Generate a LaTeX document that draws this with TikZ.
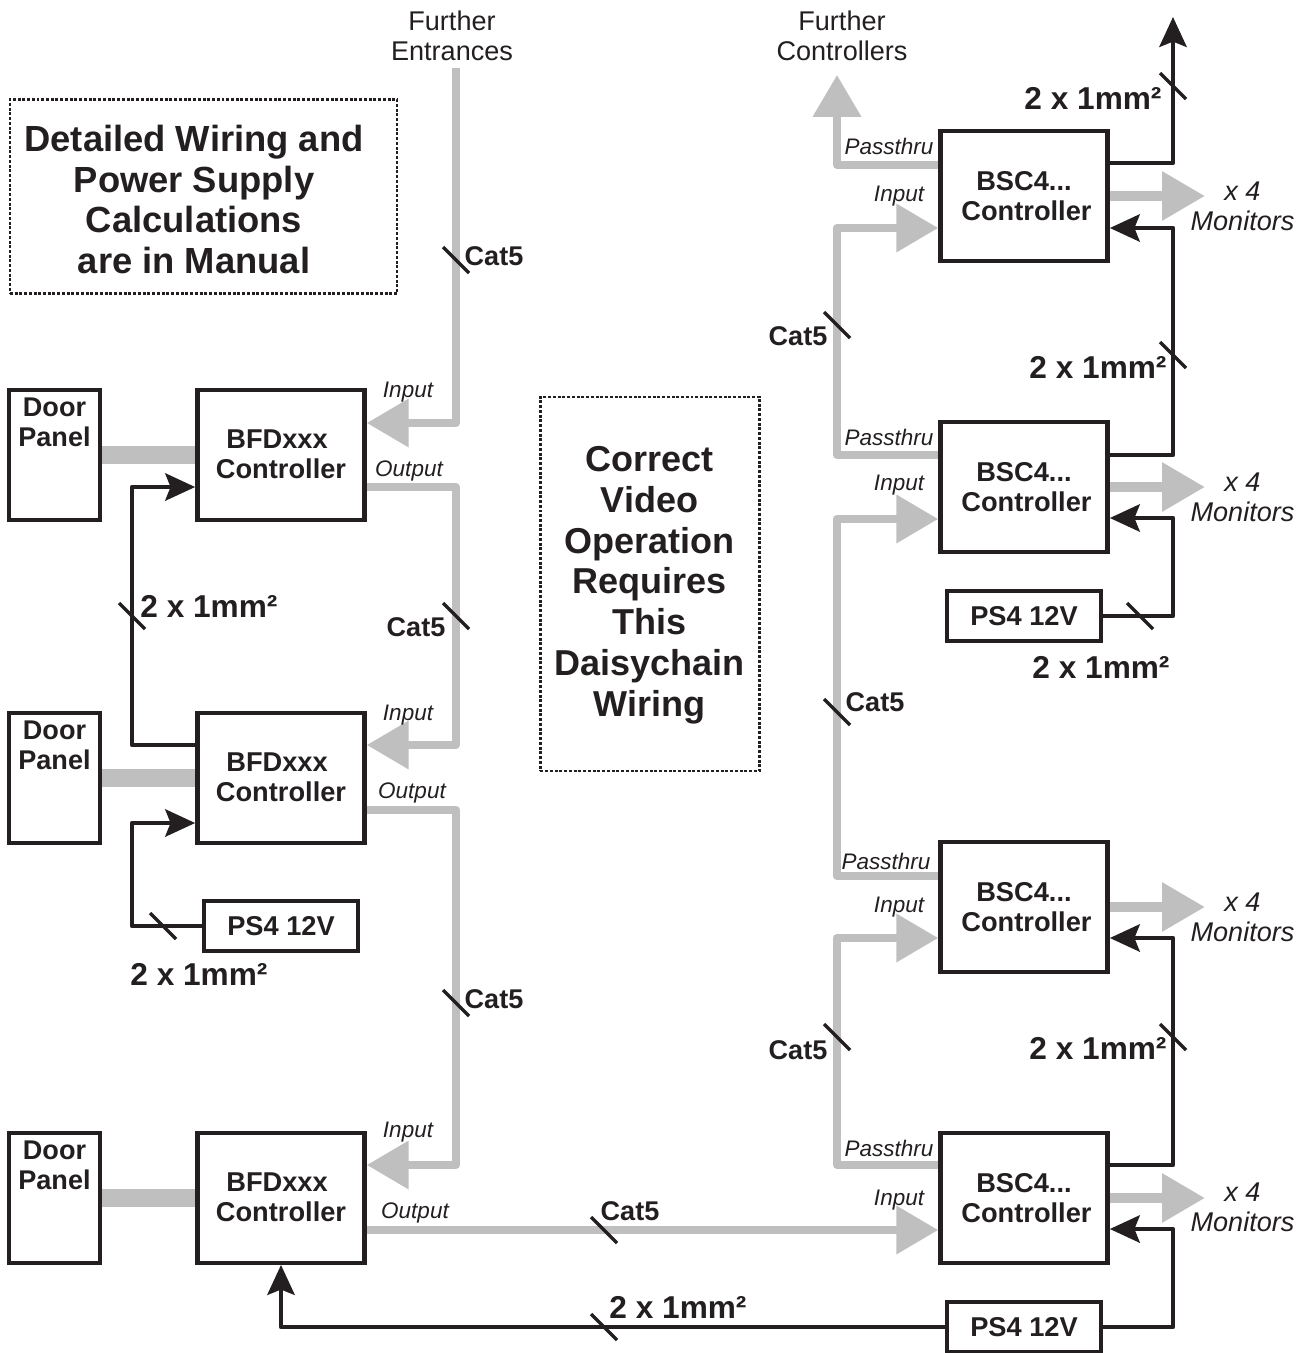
\documentclass[tikz,border=0pt]{standalone}
\usepackage{fontspec}
\setmainfont{Liberation Sans}
\usetikzlibrary{arrows.meta}
\definecolor{wireblack}{HTML}{231F20}
\definecolor{wiregray}{HTML}{BFBFBF}
\newcommand{\bfdtext}{BFDxxx\hspace*{4.5pt}\\Controller}
\newcommand{\bsctext}{BSC4...\\\hspace*{2.8pt}Controller}
\begin{document}
\begin{tikzpicture}[x=0.02cm,y=-0.02cm,color=wireblack]
\tikzstyle{unitbox}=[draw=wireblack,line width=2.5pt,fill=white,align=center,font=\fontsize{15.5}{17}\selectfont\bfseries,inner sep=0pt]
\tikzstyle{doorbox}=[unitbox,minimum width=51.6pt,minimum height=73.7pt]
\tikzstyle{ctrlbox}=[unitbox,minimum width=95.2pt,minimum height=73.7pt]
\tikzstyle{psubox}=[unitbox,minimum width=87.5pt,minimum height=28.3pt]
\tikzstyle{notebox}=[draw=wireblack,line width=1.3pt,dash pattern=on 1.7pt off 1pt,inner sep=0pt]
\tikzstyle{notetext}=[align=center,font=\fontsize{20.5}{23.2}\selectfont\bfseries,inner sep=0pt]
\tikzstyle{catwire}=[wiregray,line width=4.5pt,line join=round]
\tikzstyle{catarrow}=[catwire,-{Triangle[length=23.8pt,width=26.6pt]}]
\tikzstyle{monwire}=[wiregray,line width=5.6pt,-{Triangle[length=24.4pt,width=26.6pt]}]
\tikzstyle{doorwire}=[wiregray,line width=10.2pt]
\tikzstyle{powerwire}=[wireblack,line width=2.5pt,line join=round]
\tikzstyle{powerarrow}=[powerwire,-{Stealth[length=17pt,width=15.5pt,inset=3pt]}]
\tikzstyle{wiretick}=[wireblack,line width=2pt]
\tikzstyle{smalllabel}=[font=\fontsize{12.8}{14}\selectfont\itshape,inner sep=0pt]
\tikzstyle{catlabel}=[font=\fontsize{15.4}{17}\selectfont\bfseries,inner sep=0pt]
\tikzstyle{sizelabel}=[font=\fontsize{18}{20}\selectfont\bfseries,inner sep=0pt]
\tikzstyle{furtherlabel}=[font=\fontsize{15.4}{17}\selectfont,align=center,inner sep=0pt]
\tikzstyle{monlabel}=[font=\fontsize{15.4}{17}\selectfont\itshape,align=center,inner sep=0pt]
\useasboundingbox (0,0) rectangle (1307,1353);
\node[notebox,minimum width=220.5pt,minimum height=110.5pt] (noteA) at (203.5,196.5) {};
\node[notetext,font=\fontsize{20.7}{23.2}\selectfont\bfseries] (noteAtext) at (194,199.5) {Detailed Wiring and\\Power Supply\\Calculations\\are in Manual};
\node[notebox,minimum width=124.7pt,minimum height=213pt] (noteB) at (650,584) {};
\node[notetext] (noteBtext) at (649.5,585) {Correct\\Video\\Operation\\Requires\\This\\Daisychain\\Wiring};
\node[doorbox] (doorA) at (54.5,455) {};
\node[doorbox] (doorB) at (54.5,778) {};
\node[doorbox] (doorC) at (54.5,1198) {};
\node[catlabel,align=center] (doortextA) at (54.5,422) {Door\\Panel};
\node[catlabel,align=center] (doortextB) at (54.5,745) {Door\\Panel};
\node[catlabel,align=center] (doortextC) at (54.5,1165) {Door\\Panel};
\node[ctrlbox] (bfdA) at (281,455) {};
\node[ctrlbox] (bfdB) at (281,778) {};
\node[ctrlbox] (bfdC) at (281,1198) {};
\node[catlabel,align=center,font=\fontsize{15.5}{17}\selectfont\bfseries] (bfdtextA) at (281,454) {\bfdtext};
\node[catlabel,align=center,font=\fontsize{15.5}{17}\selectfont\bfseries] (bfdtextB) at (281,777) {\bfdtext};
\node[catlabel,align=center,font=\fontsize{15.5}{17}\selectfont\bfseries] (bfdtextC) at (281,1197) {\bfdtext};
\node[ctrlbox] (bscA) at (1024,196) {\bsctext};
\node[ctrlbox] (bscB) at (1024,487) {\bsctext};
\node[ctrlbox] (bscC) at (1024,907) {\bsctext};
\node[ctrlbox] (bscD) at (1024,1198) {\bsctext};
\node[psubox] (psuA) at (281,926) {PS4 12V};
\node[psubox] (psuB) at (1024,616) {PS4 12V};
\node[psubox] (psuC) at (1024,1327) {PS4 12V};
\node[furtherlabel] (furtherE) at (452,36) {Further\\Entrances};
\node[furtherlabel] (furtherC) at (842,36) {Further\\Controllers};
\coordinate (furtherEend) at (456,68);
\coordinate (furtherCtip) at (837,75);
\coordinate (furtherPtip) at (1173,17);
\coordinate (monA) at (1205,196);
\coordinate (monB) at (1205,487);
\coordinate (monC) at (1205,907);
\coordinate (monD) at (1205,1198);
\draw[doorwire] (doorA.east) -- (bfdA.west);
\draw[doorwire] (doorB.east) -- (bfdB.west);
\draw[doorwire] (doorC.east) -- (bfdC.west);
\draw[catarrow] (furtherEend) -- (456,423) -- (bfdA.east |- 0,423);
\draw[catarrow] (bfdA.east |- 0,487) -- (456,487) -- (456,745) -- (bfdB.east |- 0,745);
\draw[catarrow] (bfdB.east |- 0,810) -- (456,810) -- (456,1165) -- (bfdC.east |- 0,1165);
\draw[catarrow] (bfdC.east |- 0,1230) -- (bscD.west |- 0,1230);
\draw[catarrow] (bscA.west |- 0,165) -- (837,165) -- (furtherCtip);
\draw[catarrow] (bscB.west |- 0,455) -- (837,455) -- (837,228) -- (bscA.west |- 0,228);
\draw[catarrow] (bscC.west |- 0,876) -- (837,876) -- (837,519) -- (bscB.west |- 0,519);
\draw[catarrow] (bscD.west |- 0,1165) -- (837,1165) -- (837,938) -- (bscC.west |- 0,938);
\draw[monwire] (bscA.east) -- (monA);
\draw[monwire] (bscB.east) -- (monB);
\draw[monwire] (bscC.east) -- (monC);
\draw[monwire] (bscD.east) -- (monD);
\draw[powerarrow] (bfdB.west |- 0,745) -- (132,745) -- (132,487) -- (bfdA.west |- 0,487);
\draw[powerarrow] (psuA.west) -- (132,926) -- (132,823) -- (bfdB.west |- 0,823);
\draw[powerarrow] (psuC.west) -- (281,1327) -- (bfdC.south);
\draw[powerarrow] (bscA.east |- 0,163) -- (1173,163) -- (furtherPtip);
\draw[powerarrow] (bscB.east |- 0,455) -- (1173,455) -- (1173,228) -- (bscA.east |- 0,228);
\draw[powerarrow] (psuB.east) -- (1173,616) -- (1173,518) -- (bscB.east |- 0,518);
\draw[powerarrow] (bscD.east |- 0,1165) -- (1173,1165) -- (1173,938) -- (bscC.east |- 0,938);
\draw[powerarrow] (psuC.east) -- (1173,1327) -- (1173,1229) -- (bscD.east |- 0,1229);
\draw[wiretick] (456,260) +(-13,-13) -- +(13,13);
\draw[wiretick] (456,616) +(-13,-13) -- +(13,13);
\draw[wiretick] (456,1003) +(-13,-13) -- +(13,13);
\draw[wiretick] (132,616) +(-13,-13) -- +(13,13);
\draw[wiretick] (163,926) +(-13,-13) -- +(13,13);
\draw[wiretick] (1173,86) +(-13,-13) -- +(13,13);
\draw[wiretick] (837,325) +(-13,-13) -- +(13,13);
\draw[wiretick] (1173,355) +(-13,-13) -- +(13,13);
\draw[wiretick] (837,712) +(-13,-13) -- +(13,13);
\draw[wiretick] (1140,616) +(-13,-13) -- +(13,13);
\draw[wiretick] (837,1037) +(-13,-13) -- +(13,13);
\draw[wiretick] (1173,1037) +(-13,-13) -- +(13,13);
\draw[wiretick] (604,1230) +(-13,-13) -- +(13,13);
\draw[wiretick] (604,1327) +(-13,-13) -- +(13,13);
\node[catlabel] (catA) at (494,256) {Cat5};
\node[catlabel] (catB) at (416,627) {Cat5};
\node[catlabel] (catC) at (494,999) {Cat5};
\node[catlabel] (catD) at (798,336) {Cat5};
\node[catlabel] (catE) at (875,702) {Cat5};
\node[catlabel] (catF) at (798,1050) {Cat5};
\node[catlabel] (catG) at (630,1211) {Cat5};
\node[sizelabel] (sizeA) at (1093,98) {2 x 1mm²};
\node[sizelabel] (sizeB) at (1098,367) {2 x 1mm²};
\node[sizelabel] (sizeC) at (209,606) {2 x 1mm²};
\node[sizelabel] (sizeD) at (1101,667) {2 x 1mm²};
\node[sizelabel] (sizeE) at (199,974) {2 x 1mm²};
\node[sizelabel] (sizeF) at (1098,1048) {2 x 1mm²};
\node[sizelabel] (sizeG) at (678,1307) {2 x 1mm²};
\node[smalllabel] (inA) at (408,392) {Input};
\node[smalllabel] (inB) at (408,715) {Input};
\node[smalllabel] (inC) at (408,1132) {Input};
\node[smalllabel] (outA) at (409,471) {Output};
\node[smalllabel] (outB) at (412,793) {Output};
\node[smalllabel] (outC) at (415,1213) {Output};
\node[smalllabel] (inD) at (899,196) {Input};
\node[smalllabel] (inE) at (899,485) {Input};
\node[smalllabel] (inF) at (899,907) {Input};
\node[smalllabel] (inG) at (899,1200) {Input};
\node[smalllabel] (passA) at (889,146) {Passthru};
\node[smalllabel] (passB) at (889,437) {Passthru};
\node[smalllabel] (passC) at (886,861) {Passthru};
\node[smalllabel] (passD) at (889,1148) {Passthru};
\node[monlabel] (monlabelA) at (1242.5,206.5) {x 4\\Monitors};
\node[monlabel] (monlabelB) at (1242.5,497.5) {x 4\\Monitors};
\node[monlabel] (monlabelC) at (1242.5,917.5) {x 4\\Monitors};
\node[monlabel] (monlabelD) at (1242.5,1207.5) {x 4\\Monitors};
\end{tikzpicture}
\end{document}
